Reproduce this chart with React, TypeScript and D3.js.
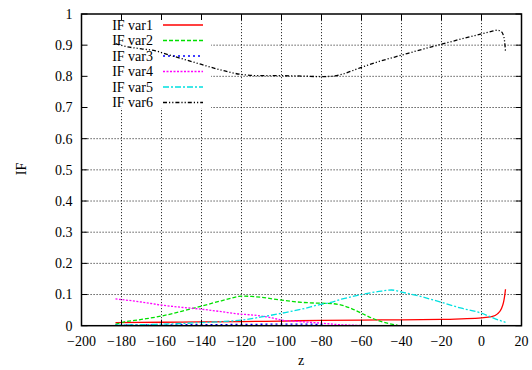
import React from "react";
import * as d3 from "d3";

const xTicks = [-200, -180, -160, -140, -120, -100, -80, -60, -40, -20, 0, 20];
const yTicks = [0, 0.1, 0.2, 0.3, 0.4, 0.5, 0.6, 0.7, 0.8, 0.9, 1];
const seriesNames = ["IF var1", "IF var2", "IF var3", "IF var4", "IF var5", "IF var6"];
const seriesColors = ["#ff0000", "#00e000", "#0000ff", "#ff00ff", "#00e0e0", "#000000"];
const seriesDash = ["", "4,2", "2,3", "2,1.5", "6,2,2,2", "4,2,1.2,2,1.2,2"];

const var1Z = [-183, -160, -140, -120, -100, -80, -60, -40, -20, -10, 0, 5, 8, 10, 11, 11.5, 12];
const var1V = [0.01, 0.011, 0.012, 0.013, 0.015, 0.017, 0.018, 0.019, 0.02, 0.022, 0.025, 0.029, 0.038, 0.055, 0.075, 0.092, 0.117];

const var2Z = [-183, -180, -170, -160, -150, -140, -130, -122, -120, -115, -110, -100, -90, -80, -75, -70, -65, -60, -55, -50, -45, -42];
const var2V = [0.004, 0.01, 0.02, 0.031, 0.046, 0.063, 0.08, 0.093, 0.095, 0.094, 0.091, 0.082, 0.075, 0.072, 0.071, 0.066, 0.055, 0.04, 0.025, 0.013, 0.005, 0.002];

const var3Z = [-183, -150, -120, -100, -90, -80, -78];
const var3V = [0.002, 0.003, 0.004, 0.005, 0.005, 0.004, 0.003];

const var4Z = [-183, -170, -160, -150, -140, -130, -122, -114, -104, -100, -90, -80, -70, -60];
const var4V = [0.086, 0.076, 0.066, 0.059, 0.053, 0.045, 0.038, 0.034, 0.024, 0.018, 0.013, 0.008, 0.003, 0.001];

const var5Z = [-183, -170, -160, -150, -140, -130, -120, -110, -100, -90, -80, -76, -70, -60, -50, -45, -40, -30, -20, -10, 0, 5, 10, 12];
const var5V = [0.002, 0.003, 0.005, 0.007, 0.01, 0.013, 0.018, 0.028, 0.04, 0.053, 0.069, 0.074, 0.085, 0.1, 0.111, 0.1145, 0.108, 0.093, 0.075, 0.056, 0.04, 0.027, 0.015, 0.011];

const var6Z = [-183, -180, -170, -163, -160, -150, -140, -130, -120, -110, -100, -90, -80, -75, -70, -65, -60, -50, -40, -30, -20, -10, 0, 5, 8, 10, 11, 11.5, 12];
const var6V = [0.905, 0.899, 0.888, 0.882, 0.876, 0.857, 0.838, 0.82, 0.806, 0.802, 0.802, 0.801, 0.799, 0.8, 0.806, 0.817, 0.829, 0.85, 0.868, 0.886, 0.903, 0.92, 0.936, 0.944, 0.948, 0.943, 0.93, 0.915, 0.88];

const seriesZ = [var1Z, var2Z, var3Z, var4Z, var5Z, var6Z];
const seriesV = [var1V, var2V, var3V, var4V, var5V, var6V];

const W = 532;
const H = 370;
const L = 81.5, R = 521.5, T = 14, B = 325.7;
const FONT = '"Liberation Serif", "DejaVu Serif", serif';
const textStyle: React.CSSProperties = { fontFamily: FONT, fontSize: "14px" };

export default function App() {
  const x = d3.scaleLinear().domain([-200, 20]).range([L, R]);
  const y = d3.scaleLinear().domain([0, 1]).range([B, T]);
  const line = d3
    .line<[number, number]>()
    .x((d) => x(d[0]))
    .y((d) => y(d[1]))
    .curve(d3.curveMonotoneX);

  const legendX0 = 163, legendX1 = 203, legendTextX = 153;
  const legendY0 = 25, legendDy = 15.5;

  return (
    <svg
      width={W}
      height={H}
      style={{ position: "absolute", left: 0, top: 0, background: "#fff" }}
    >
      <rect x={0} y={0} width={W} height={H} fill="#fff" />
      {/* grid */}
      <g stroke="#000" strokeWidth={0.8} strokeDasharray="1.2,1.8">
        {xTicks.filter((t) => t > -200 && t < 20).map((t) => (
          <line key={"gx" + t} x1={x(t)} x2={x(t)} y1={T} y2={B} />
        ))}
        {yTicks.filter((t) => t > 0 && t < 1).map((t) => (
          <line key={"gy" + t} x1={L} x2={R} y1={y(t)} y2={y(t)} />
        ))}
      </g>
      {/* legend box (opaque) */}
      <rect x={L + 1} y={T + 1} width={211 - L - 1} height={108 - T - 1} fill="#fff" />
      {seriesNames.map((n, i) => (
        <g key={"lg" + i}>
          <text
            x={legendTextX}
            y={legendY0 + i * legendDy}
            dy="0.35em"
            textAnchor="end"
            style={textStyle}
            fill="#000"
          >
            {n}
          </text>
          <line
            x1={legendX0}
            x2={legendX1}
            y1={legendY0 + i * legendDy}
            y2={legendY0 + i * legendDy}
            stroke={seriesColors[i]}
            strokeWidth={1.3}
            strokeDasharray={seriesDash[i] || undefined}
          />
        </g>
      ))}
      {/* series */}
      {seriesZ.map((zs, i) => (
        <path
          key={"s" + i}
          d={line(zs.map((z, j) => [z, seriesV[i][j]] as [number, number])) || ""}
          fill="none"
          stroke={seriesColors[i]}
          strokeWidth={1.3}
          strokeDasharray={seriesDash[i] || undefined}
        />
      ))}
      {/* border */}
      <rect x={L} y={T} width={R - L} height={B - T} fill="none" stroke="#000" strokeWidth={1.5} />
      {/* ticks */}
      <g stroke="#000" strokeWidth={1}>
        {xTicks.map((t) => (
          <g key={"tx" + t}>
            <line x1={x(t)} x2={x(t)} y1={B} y2={B - 6} />
            <line x1={x(t)} x2={x(t)} y1={T} y2={T + 6} />
          </g>
        ))}
        {yTicks.map((t) => (
          <g key={"ty" + t}>
            <line x1={L} x2={L + 6} y1={y(t)} y2={y(t)} />
            <line x1={R} x2={R - 6} y1={y(t)} y2={y(t)} />
          </g>
        ))}
      </g>
      {/* tick labels */}
      {xTicks.map((t) => (
        <text key={"lx" + t} x={x(t)} y={345.5} textAnchor="middle" style={textStyle} fill="#000">
          {t < 0 ? "\u2212" + Math.abs(t) : String(t)}
        </text>
      ))}
      {yTicks.map((t) => (
        <text key={"ly" + t} x={72.5} y={y(t)} dy="0.35em" textAnchor="end" style={textStyle} fill="#000">
          {d3.format("~g")(t)}
        </text>
      ))}
      {/* axis titles */}
      <text x={301} y={365} textAnchor="middle" style={textStyle} fill="#000">z</text>
      <text
        transform={`translate(21,169) rotate(-90)`}
        textAnchor="middle"
        dy="0.35em"
        style={textStyle}
        fill="#000"
      >
        IF
      </text>
    </svg>
  );
}
